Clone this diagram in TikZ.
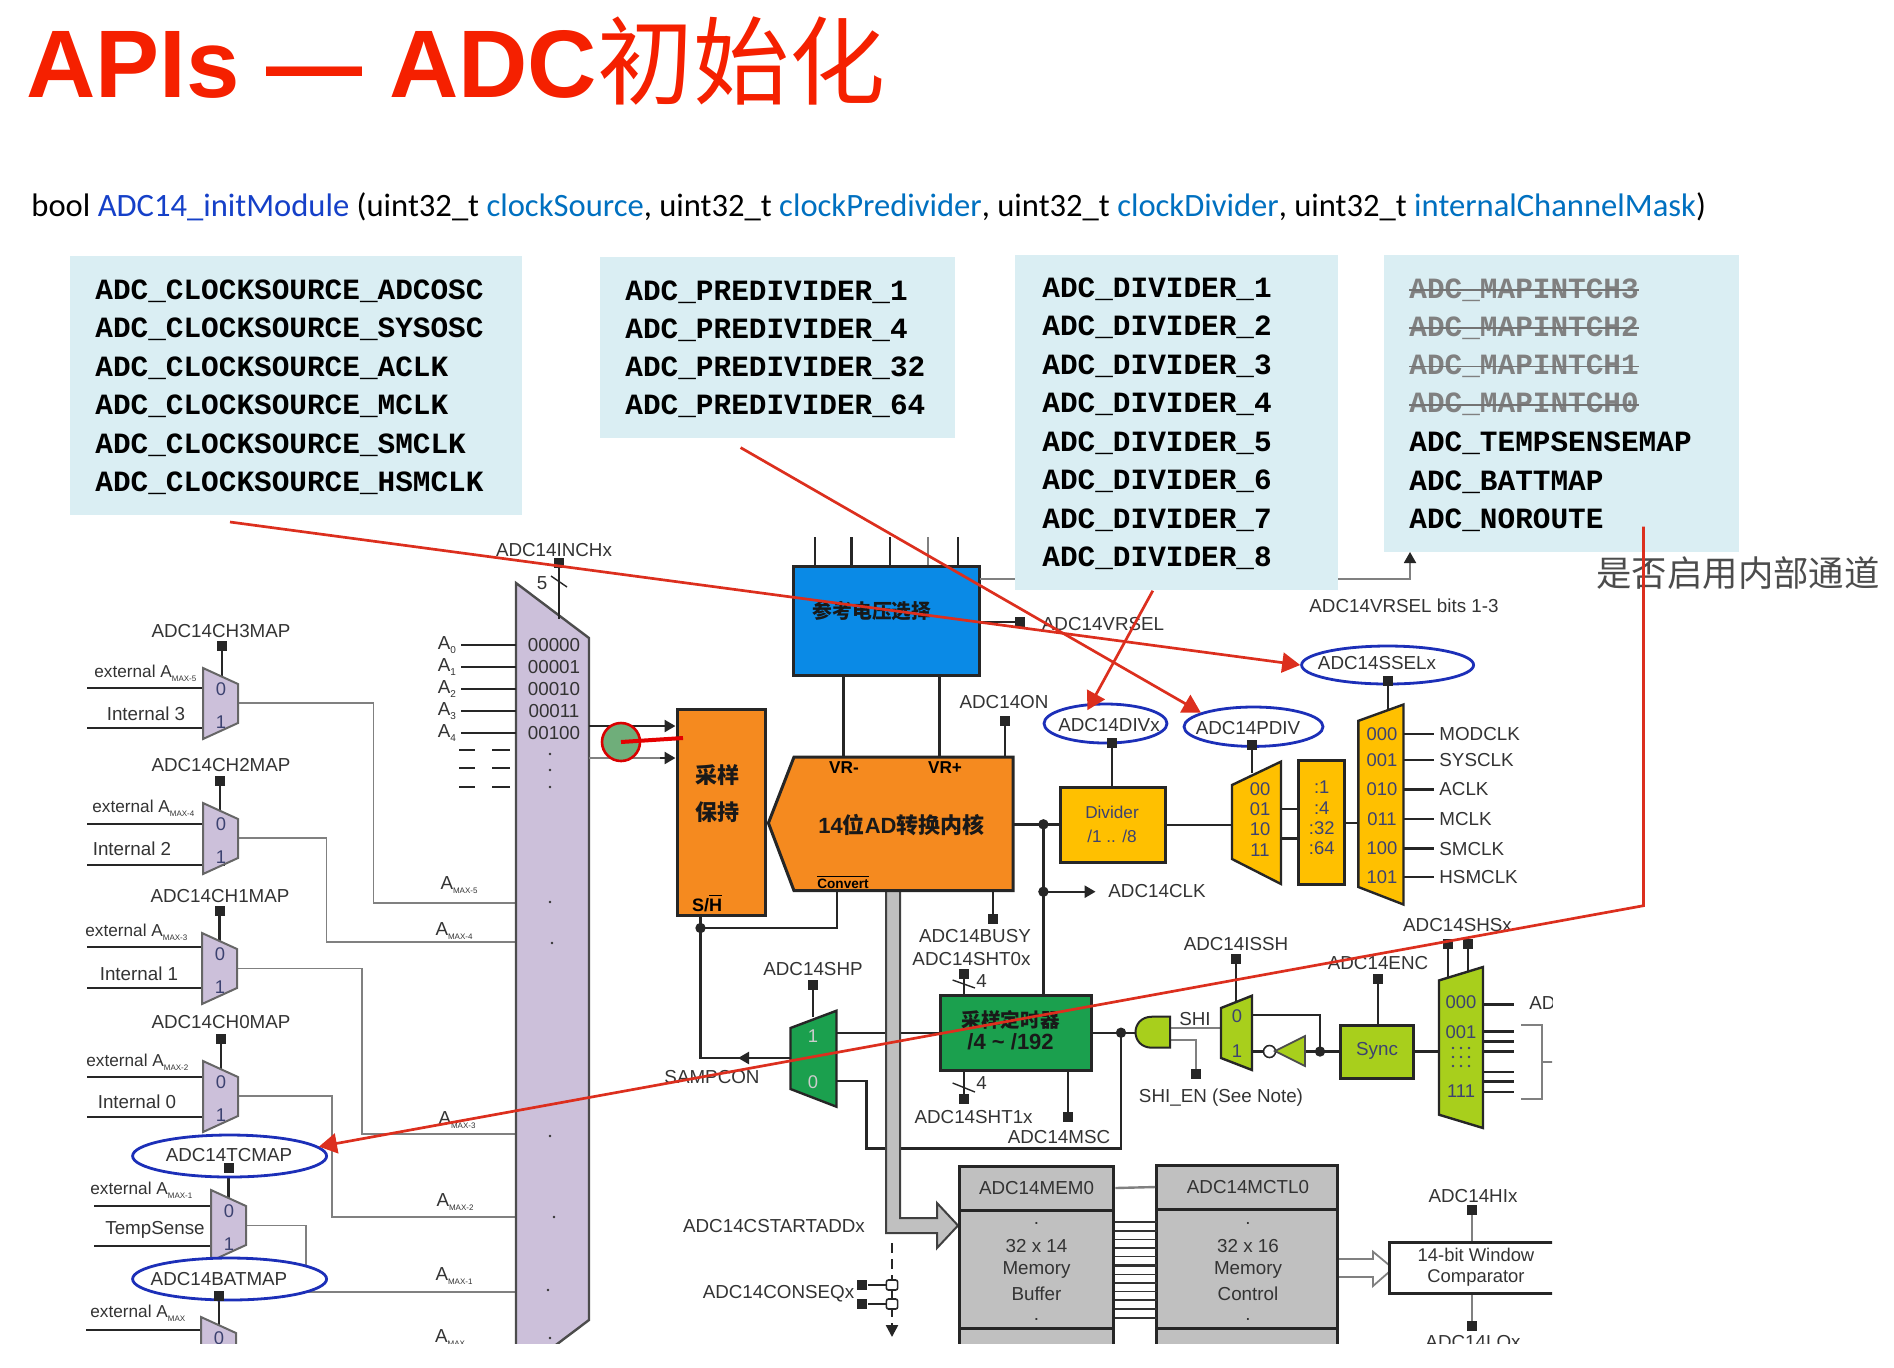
\documentclass[tikz,border=0pt]{standalone}
\usepackage{fontspec}
\setmainfont{Liberation Sans}
\newfontfamily\cjkfont{Noto Sans CJK SC}
\newfontfamily\codefont{Liberation Mono}
\newfontfamily\sigfont{Carlito}
\usetikzlibrary{arrows.meta,shapes.geometric}
\definecolor{boxblue}{HTML}{DAEEF3}
\definecolor{muxpurple}{HTML}{CCC0DA}
\definecolor{coreorange}{HTML}{F58A1F}
\definecolor{refblue}{HTML}{0A8AE6}
\definecolor{clkyellow}{HTML}{FFC000}
\definecolor{timergreen}{HTML}{1BA04E}
\definecolor{lime}{HTML}{A8CF1C}
\definecolor{memgray}{HTML}{C0C0C0}
\definecolor{redline}{HTML}{DC2F1E}
\definecolor{titlered}{HTML}{F52000}
\definecolor{probegreen}{HTML}{6FAE7A}
\definecolor{ovalblue}{HTML}{1C2FB8}
\definecolor{fnblue}{HTML}{1540C8}
\definecolor{argblue}{HTML}{0070C0}
\definecolor{lbltext}{HTML}{333333}
\definecolor{digitblue}{HTML}{3C4270}
\tikzset{
    wire/.style={line width=1.2pt,black!85},
    gwire/.style={line width=0.9pt,black!50},
    pinbox/.style={fill=black!85,minimum width=5pt,minimum height=4.6pt,inner sep=0pt},
    lbl/.style={inner sep=0pt,text=lbltext,font=\fontsize{9.4}{11}\selectfont},
    digit/.style={inner sep=0pt,text=digitblue,font=\fontsize{9.2}{11}\selectfont},
    sublbl/.style={inner sep=0pt,text=lbltext,font=\fontsize{9.4}{11}\selectfont,anchor=west},
    extlbl/.style={inner sep=0pt,text=lbltext,font=\fontsize{8.6}{11}\selectfont,anchor=west},
    solid box/.style={draw=black!85,line width=1.5pt,inner sep=0pt},
    ovalbox/.style={ellipse,draw=ovalblue,fill=white,line width=1.4pt,inner sep=0pt},
    infobox/.style={fill=boxblue,inner sep=0pt},
    codetext/.style={anchor=west,inner sep=0pt,text height=10pt,text depth=2pt,font=\codefont\bfseries\fontsize{14.7}{16}\selectfont},
    bigcjk/.style={inner sep=0pt,text=black!90,font=\cjkfont\bfseries\fontsize{11}{13}\selectfont},
    redarrow/.style={redline,line width=1.35pt,line join=miter,-{Triangle[length=9pt,width=10pt]}},
    tip/.style={-{Triangle[length=5.5pt,width=6pt]}}
}
\newcommand{\amax}[1]{A\raisebox{-0.45ex}{\fontsize{4}{5}\selectfont MAX#1}}
\newcommand{\chanmux}[3]{
    \draw[line width=1pt,black!60,fill=muxpurple] (#2,#3) -- ++(35,16) -- ++(0,39) -- ++(-35,16) -- cycle;
    \node[digit] (#1-zero) at (#2+18,#3+21) {0};
}
\begin{document}
\begin{tikzpicture}[x=0.5pt,y=-0.5pt]
    \useasboundingbox (0,0) rectangle (1894,1367);

    \node[anchor=base west,inner sep=0pt,text=titlered,font=\bfseries\fontsize{48}{52}\selectfont] (title) at (26,97) {APIs --- ADC{\cjkfont\mdseries 初始化}};
    \node[anchor=base west,inner sep=0pt,font=\sigfont\fontsize{16.3}{18}\selectfont] (signature) at (31,216) {bool {\color{fnblue}ADC14\_initModule} (uint32\_t {\color{argblue}clockSource}, uint32\_t {\color{argblue}clockPredivider}, uint32\_t {\color{argblue}clockDivider}, uint32\_t {\color{argblue}internalChannelMask})};

    \begin{scope}
        \clip (0,530) rectangle (1552,1343);

        \foreach \nm/\xs/\ya/\yb in {ch3/87/688/728,ch2/87/824/865,ch1/87/947/988,ch0/87/1077/1117,tc/94/1206/1246} {
            \coordinate (\nm-a) at (\xs,\ya);
            \coordinate (\nm-b) at (\xs,\yb);
            \coordinate (\nm-c) at (225,\ya);
            \coordinate (\nm-d) at (225,\yb);
            \draw[wire] (\nm-a) -- (\nm-c);
            \draw[wire] (\nm-b) -- (\nm-d);
        }
        \coordinate (bat-a) at (86,1330);
        \coordinate (bat-c) at (225,1330);
        \draw[wire] (bat-a) -- (bat-c);

        \foreach \nm/\xo/\yo/\xb/\ya in {ch3/238/703/373.5/903,ch2/238/838/326.5/942,ch1/237/968.5/362/1134,ch0/238/1096/332/1216.6,tc/245/1225.4/306/1292} {
            \coordinate (\nm-out) at (\xo,\yo);
            \coordinate (\nm-in) at (516,\ya);
            \draw[gwire] (\nm-out) -| (\xb,\ya) -- (\nm-in);
        }

        \foreach \nm/\xp/\yp/\ym in {ch3/222/646/676,ch2/220/781/811,ch1/219.5/911/941,ch0/221/1039/1069,tc/228.6/1168/1198,bat/219/1296/1325} {
            \node[pinbox] (p\nm) at (\xp,\yp) {};
            \coordinate (t\nm) at (\xp,\ym);
            \draw[wire] (p\nm) -- (t\nm);
        }

        \chanmux{ch3}{203}{668}
        \chanmux{ch2}{203}{803}
        \chanmux{ch1}{202}{933}
        \chanmux{ch0}{203}{1061}
        \chanmux{tc}{211}{1190}
        \chanmux{bat}{201}{1317}
        \node[digit] (ch3-one) at (221,722) {1};
        \node[digit] (ch2-one) at (221,857) {1};
        \node[digit] (ch1-one) at (220,987) {1};
        \node[digit] (ch0-one) at (221,1115) {1};
        \node[digit] (tc-one) at (229,1244) {1};

        \node[lbl] (lch3) at (221,631) {ADC14CH3MAP};
        \node[lbl] (lch2) at (221,765) {ADC14CH2MAP};
        \node[lbl] (lch1) at (220,896) {ADC14CH1MAP};
        \node[lbl] (lch0) at (221,1022) {ADC14CH0MAP};
        \node[extlbl] (ext3) at (94,673) {external \amax{-5}};
        \node[extlbl] (ext2) at (92,808) {external \amax{-4}};
        \node[extlbl] (ext1) at (85,932) {external \amax{-3}};
        \node[extlbl] (ext0) at (86,1062) {external \amax{-2}};
        \node[extlbl] (exttc) at (90,1190) {external \amax{-1}};
        \node[extlbl] (extbat) at (90,1313) {external \amax{}};
        \node[lbl] (int3) at (146,714) {Internal 3};
        \node[lbl] (int2) at (132,849) {Internal 2};
        \node[lbl] (int1) at (139,974) {Internal 1};
        \node[lbl] (int0) at (137,1102) {Internal 0};
        \node[lbl] (tsense) at (155,1230) {TempSense};

        \node[ovalbox,minimum width=97pt,minimum height=21pt] (tcmap) at (229.6,1156) {};
        \node[ovalbox,minimum width=97pt,minimum height=21pt] (batmap) at (229.6,1279) {};
        \node[lbl] (ltc) at (229,1155) {ADC14TCMAP};
        \node[lbl] (lbat) at (219,1279) {ADC14BATMAP};
        \node[pinbox] (ptc2) at (228.6,1168) {};
        \node[pinbox] (pbat2) at (219,1296) {};
        \coordinate (batline) at (516,1292);
        \draw[gwire] (batmap.east |- batline) -- (batline);

        \draw[line width=1.2pt,black!70,fill=muxpurple] (516,583) -- (589,638) -- (589,1320) -- (516,1375) -- cycle;
        \node[pinbox] (pinch) at (559,563) {};
        \coordinate (inchtop) at (559,619);
        \draw[wire] (pinch) -- (inchtop);
        \coordinate (incha) at (551,576);
        \coordinate (inchb) at (567,587);
        \draw[wire,line width=0.7pt] (incha) -- (inchb);
        \node[lbl] (linch) at (554,550) {ADC14INCHx};
        \node[lbl] (lfive) at (542,583) {5};

        \foreach \i/\yy/\bits in {0/645/00000,1/667/00001,2/689/00010,3/711/00011,4/733/00100} {
            \node[lbl] (bits\i) at (554,\yy) {\bits};
            \node[lbl] (a\i) at (447,\yy) {A\raisebox{-0.45ex}{\fontsize{5}{6}\selectfont\i}};
            \coordinate (as\i) at (461,\yy);
            \coordinate (ae\i) at (516,\yy);
            \draw[wire] (as\i) -- (ae\i);
        }
        \foreach \yy in {750,768,787} {
            \coordinate (da\yy) at (459,\yy);
            \coordinate (db\yy) at (475,\yy);
            \coordinate (dc\yy) at (492,\yy);
            \coordinate (dd\yy) at (510,\yy);
            \draw[wire] (da\yy) -- (db\yy);
            \draw[wire] (dc\yy) -- (dd\yy);
        }
        \foreach \xx/\yy in {550/754,550/770,550/787,550/902,552/943,550/1136,554/1217,548/1290,550/1338} {
            \fill[lbltext] (\xx,\yy) circle(0.7pt);
        }
        \node[lbl] (am5) at (459,885) {\amax{-5}};
        \node[lbl] (am4) at (454,931) {\amax{-4}};
        \node[lbl] (am3) at (457,1120) {\amax{-3}};
        \node[lbl] (am2) at (455,1202) {\amax{-2}};
        \node[lbl] (am1) at (454,1276) {\amax{-1}};
        \node[lbl] (am0) at (450,1338) {\amax{}};

        \node[solid box,fill=coreorange,minimum width=44pt,minimum height=103pt] (snh) at (721,812) {};
        \node[solid box,fill=refblue,minimum width=93pt,minimum height=54.5pt] (refsel) at (886.5,621) {};
        \node[inner sep=0pt,text=black!90,font=\cjkfont\bfseries\fontsize{9.9}{12}\selectfont] (lref) at (872,611) {参考电压选择};
        \node[bigcjk] (lsnh1) at (717,775) {采样};
        \node[bigcjk] (lsnh2) at (717,812) {保持};
        \node[inner sep=0pt,font=\bfseries\fontsize{9}{11}\selectfont] (lsh) at (707,903) {S/$\overline{\mbox{H}}$};

        \coordinate (muxout1) at (589,726);
        \coordinate (muxout2) at (589,758);
        \draw[wire,tip] (muxout1) -- (muxout1 -| snh.west);
        \draw[gwire] (muxout2) -- (660,758);
        \draw[wire,tip] (660,758) -- (muxout2 -| snh.west);

        \foreach \xx/\nm in {815/a,851.4/b,890/c,957.7/e} {
            \coordinate (st\nm) at (\xx,537);
            \draw[wire] (st\nm) -- (st\nm |- refsel.north);
        }
        \coordinate (std) at (928,537);
        \draw[gwire] (std) -- (std |- refsel.north);

        \coordinate (vrm) at (843.4,757);
        \coordinate (vrp) at (939.4,757);
        \draw[wire] (vrm |- refsel.south) -- (vrm);
        \draw[wire] (vrp |- refsel.south) -- (vrp);

        \coordinate (vrbitsa) at (979.5,579);
        \coordinate (vrbitsb) at (1410,579);
        \coordinate (vrbitsc) at (1410,552);
        \draw[gwire,-{Triangle[length=5.5pt,width=6pt,black!85]}] (vrbitsa) -- (vrbitsb) -- (vrbitsc);
        \node[lbl] (lbits) at (1404,606) {ADC14VRSEL bits 1-3};

        \node[pinbox] (pvrsel) at (1020,622) {};
        \draw[wire] (refsel.east |- pvrsel) -- (pvrsel);
        \node[lbl] (lvrsel) at (1103,624) {ADC14VRSEL};

        \coordinate (convx) at (836.7,928);
        \coordinate (shdot) at (700.5,928);
        \coordinate (sampa) at (700.5,1058);
        \coordinate (sampb) at (790.5,1058);
        \coordinate (sampc) at (738,1058);
        \draw[wire] (convx |- 0,890) -- (convx) -- (shdot);
        \draw[wire] (shdot |- snh.south) -- (sampa) -- (sampb);
        \draw[wire,tip] (sampb) -- (sampc);
        \fill[black!85] (shdot) circle(2.6pt);
        \node[lbl] (lsamp) at (712,1077) {SAMPCON};

        \coordinate (clkdot) at (1043.4,824.3);
        \coordinate (clktap) at (1043.4,891.7);
        \coordinate (clkend) at (1095.6,891.7);
        \coordinate (coreout) at (1013,824.3);
        \draw[wire] (coreout) -- (1060,824.3);
        \draw[wire] (clkdot) -- (clktap) -- (1043.4,995);
        \draw[wire,tip] (clktap) -- (clkend);
        \fill[black!85] (clkdot) circle(2.6pt);
        \fill[black!85] (clktap) circle(2.6pt);
        \node[lbl,anchor=west] (lclk) at (1108,891) {ADC14CLK};

        \coordinate (tmrdot) at (1121,1032.7);
        \coordinate (mux0out) at (836.5,1081);
        \draw[wire] (mux0out) -- (866.4,1081) -- (866.4,1148.3) -- (1121,1148.3) -- (tmrdot);
        \coordinate (mux1out) at (836.5,1032.7);
        \draw[wire] (mux1out) -- (940,1032.7);
        \draw[wire] (1091,1032.7) -- (1136,1032.7);
        \fill[black!85] (tmrdot) circle(2.6pt);

        \draw[line width=1pt,black!75,fill=memgray] (886,890.7) -- (900,890.7) -- (900,1218) -- (937,1218) -- (937,1203) -- (958,1225.5) -- (937,1248) -- (937,1233) -- (886,1233) -- cycle;

        \draw[solid box,fill=coreorange] (794,757) -- (1013,757) -- (1013,890.7) -- (794,890.7) -- (768.4,823) -- cycle;
        \node[inner sep=0pt,text=black!90,font=\bfseries\fontsize{11}{13}\selectfont] (lcore) at (901.4,825) {14{\cjkfont 位}AD{\cjkfont 转换内核}};
        \node[inner sep=0pt,font=\bfseries\fontsize{8.6}{10}\selectfont] (lvrm) at (844,768) {VR-};
        \node[inner sep=0pt,font=\bfseries\fontsize{8.6}{10}\selectfont] (lvrp) at (945,768) {VR+};
        \node[inner sep=0pt,font=\bfseries\fontsize{6.8}{8}\selectfont] (lconv) at (843,882) {$\overline{\mbox{Convert}}$};

        \node[pinbox] (pon) at (1005,721) {};
        \coordinate (ontop) at (1005,757);
        \draw[wire] (pon) -- (ontop);
        \node[lbl] (lon) at (1004,702) {ADC14ON};

        \node[pinbox] (pbusy) at (993,919) {};
        \coordinate (busytop) at (993,890.7);
        \draw[wire] (busytop) -- (pbusy);
        \node[lbl] (lbusy) at (975,936) {ADC14BUSY};
        \node[lbl] (lsht0) at (971.5,959) {ADC14SHT0x};

        \node[solid box,fill=clkyellow,minimum width=52.8pt,minimum height=37.3pt] (divider) at (1112.8,825) {};
        \node[digit,align=center,font=\fontsize{8.6}{12}\selectfont] (ldivider) at (1112,824) {Divider\\/1 .. /8};
        \node[ovalbox,minimum width=61.5pt,minimum height=19.5pt] (divx) at (1105.5,723.5) {};
        \node[lbl] (ldivx) at (1109,725) {ADC14DIVx};
        \node[pinbox] (pdivx) at (1112,743) {};
        \draw[wire] (pdivx) -- (pdivx |- divider.north);

        \node[ovalbox,minimum width=69.5pt,minimum height=19.7pt] (pdiv) at (1253.5,726.7) {};
        \node[lbl] (lpdiv) at (1248,728) {ADC14PDIV};
        \node[pinbox] (ppdiv) at (1252,745) {};
        \coordinate (pdivtop) at (1252,773);
        \draw[wire] (ppdiv) -- (pdivtop);
        \draw[wire] (divider.east) -- (1232,825);
        \draw[solid box,line width=1.2pt,fill=clkyellow] (1232,785) -- (1281,761.6) -- (1281,884) -- (1232,859) -- cycle;
        \foreach \yy/\bits in {789/00,809/01,829.5/10,850/11} {
            \node[digit] (pd\bits) at (1260,\yy) {\bits};
        }
        \node[solid box,fill=clkyellow,minimum width=23.3pt,minimum height=62pt] (divlist) at (1321.3,822) {};
        \foreach \yy/\txt in {787/1,808/4,828/32,848.5/64} {
            \node[digit] (dl\txt) at (1321.7,\yy) {:\txt};
        }
        \coordinate (pda) at (1281,809);
        \coordinate (pdb) at (1281,838.4);
        \draw[wire] (pda) -- (pda -| divlist.west);
        \draw[wire] (pdb) -- (pdb -| divlist.west);
        \coordinate (ssin) at (1358.4,823);
        \draw[wire] (divlist.east |- ssin) -- (ssin);

        \node[ovalbox,minimum width=86pt,minimum height=19pt] (ssel) at (1387.6,665) {};
        \node[lbl] (lssel) at (1377,663) {ADC14SSELx};
        \node[pinbox] (pssel) at (1388,681) {};
        \coordinate (sseltop) at (1388,708.6);
        \draw[wire] (pssel) -- (sseltop);
        \draw[solid box,line width=1.2pt,fill=clkyellow] (1358.4,720.8) -- (1403.5,704.5) -- (1403.5,904.5) -- (1358.4,887) -- cycle;
        \foreach \yy/\bits/\src in {734/000/MODCLK,760/001/SYSCLK,789.4/010/ACLK,819/011/MCLK,848.6/100/SMCLK,877/101/HSMCLK} {
            \node[digit] (ss\bits) at (1382,\yy) {\bits};
            \node[sublbl] (l\src) at (1439,\yy) {\src};
            \coordinate (ca\bits) at (1403.5,\yy);
            \coordinate (cb\bits) at (1433.6,\yy);
            \draw[wire] (ca\bits) -- (cb\bits);
        }

        \node[pinbox] (pshp) at (813,985) {};
        \coordinate (shptop) at (813,1017);
        \draw[wire] (pshp) -- (shptop);
        \node[lbl] (lshp) at (813,969) {ADC14SHP};
        \draw[line width=1.2pt,black!85,fill=timergreen] (790.5,1028) -- (836.5,1010.7) -- (836.5,1106.7) -- (790.5,1089) -- cycle;
        \node[digit,text=black!20] (shp1) at (813,1036) {1};
        \node[digit,text=black!20] (shp0) at (813,1082) {0};

        \node[solid box,fill=timergreen,minimum width=75.5pt,minimum height=37.5pt] (timer) at (1015.5,1032.5) {};
        \node[inner sep=0pt,text=black!90,font=\cjkfont\bfseries\fontsize{9.8}{12}\selectfont] (ltmr1) at (1010.6,1020) {采样定时器};
        \node[inner sep=0pt,text=black!90,font=\bfseries\fontsize{11}{13}\selectfont] (ltmr2) at (1010.6,1042) {/4 \textasciitilde{} /192};

        \node[pinbox] (psht0) at (963.7,974) {};
        \draw[wire] (psht0) -- (psht0 |- timer.north);
        \coordinate (sl0a) at (952.6,980);
        \coordinate (sl0b) at (975,988);
        \draw[wire,line width=0.7pt] (sl0a) -- (sl0b);
        \node[lbl] (lfour0) at (981.6,981) {4};
        \node[pinbox] (psht1) at (963.7,1099) {};
        \draw[wire] (psht1) -- (psht1 |- timer.south);
        \coordinate (sl1a) at (952.6,1083);
        \coordinate (sl1b) at (975,1092);
        \draw[wire,line width=0.7pt] (sl1a) -- (sl1b);
        \node[lbl] (lfour1) at (981.6,1083) {4};
        \node[lbl] (lsht1) at (973.6,1117) {ADC14SHT1x};
        \node[pinbox] (pmsc) at (1067.8,1117) {};
        \draw[wire] (pmsc) -- (pmsc |- timer.south);
        \node[lbl] (lmsc) at (1059,1137) {ADC14MSC};

        \coordinate (shia) at (1170,1028);
        \coordinate (shib) at (1221,1028);
        \draw[gwire] (shia) -- (shib);
        \node[lbl] (lshi) at (1195,1019) {SHI};
        \node[pinbox] (pshien) at (1196,1074) {};
        \coordinate (shic) at (1170,1040);
        \draw[gwire] (shic) -| (pshien);
        \node[lbl] (lshien) at (1221,1098) {SHI\_EN (See Note)};
        \draw[line width=1pt,black!85,fill=lime] (1170,1016.7) -- (1152,1016.7) .. controls (1130,1016.7) and (1130,1047.7) .. (1152,1047.7) -- (1170,1047.7) -- cycle;

        \node[pinbox] (pissh) at (1236,959) {};
        \coordinate (isshtop) at (1236,1002);
        \draw[wire] (pissh) -- (isshtop);
        \node[lbl] (lissh) at (1236,944) {ADC14ISSH};
        \draw[line width=1.2pt,black!85,fill=lime] (1221,1008) -- (1252,995.7) -- (1252,1070) -- (1221,1058) -- cycle;
        \node[digit] (issh0) at (1237,1016) {0};
        \node[digit] (issh1) at (1237,1051) {1};

        \node[solid box,fill=lime,minimum width=36.8pt,minimum height=26.5pt] (sync) at (1376.8,1051.5) {};
        \node[digit,font=\fontsize{9.4}{11}\selectfont] (lsync) at (1377,1051) {Sync};
        \coordinate (syncdot) at (1320,1051.5);
        \node[circle,draw=black!85,fill=white,line width=0.8pt,minimum size=6pt,inner sep=0pt] (bubble) at (1269.5,1051.5) {};
        \coordinate (issha) at (1252,1014.7);
        \draw[wire] (issha) -| (syncdot);
        \draw[wire] (sync.west) -- (bubble.east);
        \draw[wire] (1252,1051.5) -- (bubble.west);
        \fill[black!85] (syncdot) circle(2.6pt);
        \draw[line width=0.9pt,black!70,fill=lime] (1275,1051) -- (1305,1036) -- (1305,1066) -- cycle;

        \node[pinbox] (penc) at (1378,979) {};
        \draw[wire] (penc) -- (penc |- sync.north);
        \node[lbl] (lenc) at (1378,963) {ADC14ENC};
        \coordinate (shsin) at (1439,1051.5);
        \draw[wire] (sync.east) -- (shsin);

        \node[pinbox] (pshsa) at (1448,944) {};
        \node[pinbox] (pshsb) at (1468,944) {};
        \coordinate (shsa) at (1448,977);
        \coordinate (shsb) at (1468,971);
        \draw[wire] (pshsa) -- (shsa);
        \draw[wire] (pshsb) -- (shsb);
        \node[lbl] (lshs) at (1457.5,925) {ADC14SHSx};
        \draw[line width=1.2pt,black!85,fill=lime] (1439,980.4) -- (1483,967) -- (1483,1128) -- (1439,1114.7) -- cycle;
        \node[digit] (shs000) at (1461,1002) {000};
        \node[digit] (shs001) at (1461,1032) {001};
        \node[digit] (shs111) at (1461,1091) {111};
        \foreach \xx in {1453,1461,1469} {
            \foreach \yy in {1048,1057,1066} {
                \fill[digitblue] (\xx,\yy) circle(0.7pt);
            }
        }
        \foreach \yy [count=\i] in {1004.5,1031.4,1041.6,1051.4,1072,1081.3,1092} {
            \coordinate (so\i) at (1483,\yy);
            \coordinate (se\i) at (1514,\yy);
            \draw[wire] (so\i) -- (se\i);
        }
        \node[sublbl] (lad) at (1529,1003) {ADC};
        \coordinate (brka) at (1521,1025);
        \coordinate (brkb) at (1541.6,1025);
        \coordinate (brkc) at (1541.6,1099);
        \coordinate (brkd) at (1521,1099);
        \coordinate (brke) at (1541.6,1062);
        \coordinate (brkf) at (1556,1062);
        \draw[gwire] (brka) -- (brkb) -- (brkc) -- (brkd);
        \draw[gwire] (brke) -- (brkf);

        \node[lbl] (lstart) at (774,1226) {ADC14CSTARTADDx};
        \coordinate (seqa) at (892,1243);
        \coordinate (seqb) at (892,1337);
        \draw[wire,dash pattern=on 5pt off 3pt,-{Triangle[length=6pt,width=6pt]}] (seqa) -- (seqb);
        \node[pinbox] (pseqa) at (862.4,1285) {};
        \node[pinbox] (pseqb) at (862.4,1304) {};
        \node[draw=black!85,fill=white,line width=0.8pt,rounded corners=1pt,minimum width=5.6pt,minimum height=5pt,inner sep=0pt] (seqsa) at (892,1285) {};
        \node[draw=black!85,fill=white,line width=0.8pt,rounded corners=1pt,minimum width=5.6pt,minimum height=5pt,inner sep=0pt] (seqsb) at (892,1304) {};
        \draw[wire] (pseqa) -- (seqsa);
        \draw[wire] (pseqb) -- (seqsb);
        \node[lbl] (lseq) at (778.5,1294) {ADC14CONSEQx};

        \node[solid box,fill=memgray,minimum width=77.3pt,minimum height=22pt] (memhead) at (1036.6,1188) {};
        \node[solid box,fill=memgray,minimum width=77.3pt,minimum height=59pt] (membody) at (1036.6,1269) {};
        \node[solid box,fill=memgray,minimum width=77.3pt,minimum height=16pt] (memtail) at (1036.6,1344) {};
        \node[solid box,fill=memgray,minimum width=90.6pt,minimum height=22pt] (ctlhead) at (1247.3,1187) {};
        \node[solid box,fill=memgray,minimum width=90.6pt,minimum height=59.5pt] (ctlbody) at (1247.3,1268.5) {};
        \node[solid box,fill=memgray,minimum width=90.6pt,minimum height=16pt] (ctltail) at (1247.3,1344) {};
        \node[lbl] (lmem) at (1036.5,1188) {ADC14MEM0};
        \node[lbl] (lctl) at (1248,1187) {ADC14MCTL0};
        \foreach \yy/\aa/\bb in {1223/./.,1246/32 x 14/32 x 16,1270/Memory/Memory,1294/Buffer/Control,1319/./.} {
            \node[lbl] (m\yy) at (1036.5,\yy) {\aa};
            \node[lbl] (c\yy) at (1248,\yy) {\bb};
        }
        \draw[gwire,line width=1.2pt] (memhead.east) -- (ctlhead.west);
        \foreach \i in {0,...,11} {
            \coordinate (bl\i) at (1115,{1222+8.7*\i});
            \coordinate (br\i) at (1157,{1222+8.7*\i});
        }
        \foreach \i/\ww in {0/0.6,1/0.9,2/0.6,3/1.1,4/0.6,5/1.1,6/0.6,7/1.1,8/0.6,9/1.1,10/0.6,11/0.8} {
            \draw[black!80,line width=\ww pt] (bl\i) -- (br\i);
        }

        \draw[gwire,fill=white] (1339,1259) -- (1373,1259) -- (1373,1251.7) -- (1389,1265) -- (1389,1272) -- (1373,1286) -- (1373,1277) -- (1339,1277);
        \node[solid box,fill=white,minimum width=105.5pt,minimum height=25.6pt] (comparator) at (1494.5,1268.3) {};
        \node[lbl,align=center,font=\fontsize{9.2}{10.4}\selectfont] (lcomp) at (1476,1267) {14-bit Window\\Comparator};
        \node[pinbox] (phi) at (1472,1210) {};
        \draw[gwire,line width=1.2pt] (phi) -- (phi |- comparator.north);
        \node[lbl] (lhi) at (1473,1196) {ADC14HIx};
        \node[pinbox] (plo) at (1472,1326) {};
        \draw[gwire,line width=1.2pt] (plo) -- (plo |- comparator.south);
        \node[lbl] (llo) at (1473,1342) {ADC14LOx};

        \node[circle,draw=red!85!black,fill=probegreen,line width=1.3pt,minimum size=19pt,inner sep=0pt] (probe) at (621,742) {};
        \coordinate (probeend) at (683,738);
        \draw[red!90!black,line width=2pt] (probe.center) -- (probeend);
    \end{scope}

    \node[infobox,minimum width=226pt,minimum height=129.5pt] (clkbox) at (296,385.5) {};
    \node[infobox,minimum width=177.5pt,minimum height=90.5pt] (prebox) at (777.5,347.5) {};
    \node[infobox,minimum width=161.5pt,minimum height=167.5pt] (divbox) at (1176.5,422.5) {};
    \node[infobox,minimum width=177.5pt,minimum height=148.5pt] (mapbox) at (1561.5,403.5) {};

    \foreach \txt [count=\i] in {ADC\_CLOCKSOURCE\_ADCOSC,ADC\_CLOCKSOURCE\_SYSOSC,ADC\_CLOCKSOURCE\_ACLK,ADC\_CLOCKSOURCE\_MCLK,ADC\_CLOCKSOURCE\_SMCLK,ADC\_CLOCKSOURCE\_HSMCLK} {
        \node[codetext] (cs\i) at (95,{291.5+38.4*(\i-1)}) {\txt};
    }
    \foreach \txt [count=\i] in {1,4,32,64} {
        \node[codetext] (pre\i) at (625,{292+38.2*(\i-1)}) {ADC\_PREDIVIDER\_\txt};
    }
    \foreach \i in {1,...,8} {
        \node[codetext] (dv\i) at (1042,{289+38.5*(\i-1)}) {ADC\_DIVIDER\_\i};
    }
    \foreach \txt [count=\i] in {3,2,1,0} {
        \node[codetext,text=black!50] (ic\i) at (1409,{290+38.2*(\i-1)}) {ADC\_MAPINTCH\txt};
        \draw[black!55,line width=0.9pt] (ic\i.west) -- (ic\i.east);
    }
    \node[codetext] (tmap) at (1409,443) {ADC\_TEMPSENSEMAP};
    \node[codetext] (bmap) at (1409,482) {ADC\_BATTMAP};
    \node[codetext] (nort) at (1409,520) {ADC\_NOROUTE};

    \node[inner sep=0pt,text=black!70,font=\cjkfont\fontsize{17.7}{22}\selectfont] (lnote) at (1738,573) {是否启用内部通道};

    \coordinate (rclk) at (230,522);
    \coordinate (rpre) at (740.6,447.6);
    \coordinate (rdiv) at (1152.8,590.7);
    \coordinate (rmapa) at (1643.4,526.7);
    \coordinate (rmapb) at (1643.4,905.7);
    \draw[redarrow] (rclk) -- (ssel.west);
    \draw[redarrow] (rpre) -- (pdiv.165);
    \draw[redarrow,shorten >=-4pt] (rdiv) -- (divx.125);
    \draw[redarrow] (rmapa) -- (rmapb) -- (tcmap.6);
\end{tikzpicture}
\end{document}
